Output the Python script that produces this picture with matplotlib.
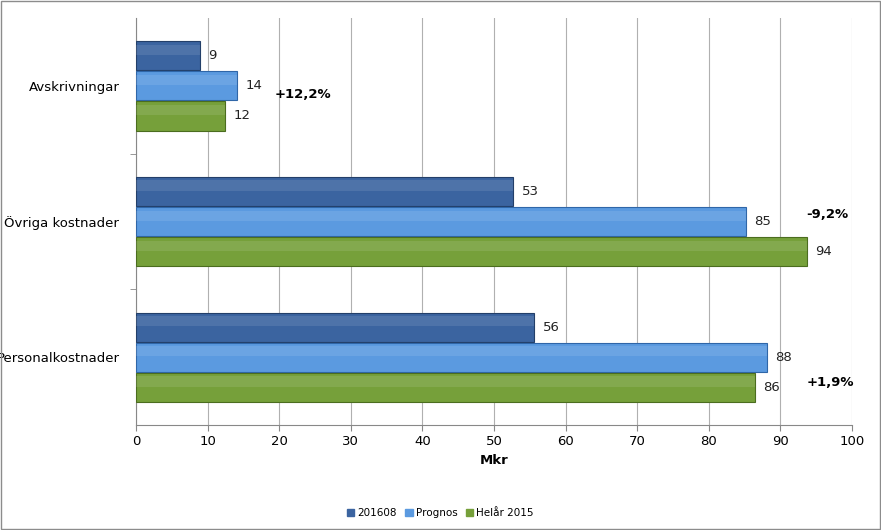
import matplotlib
matplotlib.use("Agg")
import matplotlib.pyplot as plt
import numpy as np

categories = ["Personalkostnader", "Övriga kostnader", "Avskrivningar"]
series_names = ["201608", "Prognos", "Helår 2015"]
v_201608 = [55.6, 52.7, 8.9]
v_prognos = [88.1, 85.2, 14.1]
v_helar = [86.4, 93.7, 12.4]
bar_labels = [[56, 53, 9], [88, 85, 14], [86, 94, 12]]
change_labels = ["+1,9%", "-9,2%", "+12,2%"]
change_pos = [(97.0, -0.19), (96.6, 0.05), (23.3, -0.06)]

colors = ["#3b64a0", "#5b9ae0", "#76a03a"]
edges = ["#233f69", "#2f66a8", "#4b6d1f"]

fig = plt.figure(figsize=(8.81, 5.30), dpi=100)
ax = fig.add_axes([0.1544, 0.198, 0.8126, 0.768])

y = np.arange(len(categories)) + 0.5
h = 0.215
offsets = [0.222, 0.0, -0.222]
for vals, labs, off, c, e in zip([v_201608, v_prognos, v_helar], bar_labels, offsets, colors, edges):
    ax.barh(y + off, vals, height=h, color=c, edgecolor=e, linewidth=0.8, zorder=3)
    # soft highlight on the upper part of each bar for the bevelled look
    ax.barh(y + off + h * 0.2, vals, height=h * 0.35, color="white", alpha=0.1,
            linewidth=0, zorder=4)
    for yy, v, lab in zip(y + off, vals, labs):
        ax.text(v + 1.2, yy, str(lab), va="center", ha="left", fontsize=9.5, color="#222222")

for (cx, cy), txt, yy in zip(change_pos, change_labels, y):
    ax.text(cx, yy + cy, txt, ha="center", va="center", fontsize=9.5, fontweight="bold")

ax.set_xlim(0, 100)
ax.set_ylim(0, 3)
ax.set_xticks(np.arange(0, 101, 10))
ax.set_yticks(y)
ax.set_yticklabels(categories, fontsize=9.5)
ax.set_yticks([1, 2], minor=True)
ax.tick_params(axis="y", which="major", length=0, pad=12)
ax.tick_params(axis="y", which="minor", length=4, color="#888888")
ax.tick_params(axis="x", labelsize=9.5, length=4, color="#888888")
ax.grid(True, axis="x", color="#b0b0b0", linewidth=0.8, zorder=0)
for s in ["top", "right"]:
    ax.spines[s].set_visible(False)
for s in ["left", "bottom"]:
    ax.spines[s].set_color("#888888")
ax.set_xlabel("Mkr", fontsize=9.5, fontweight="bold")

handles = [plt.Rectangle((0, 0), 1, 1, color=c) for c in colors]
fig.legend(handles, series_names, loc="lower center", ncol=3, frameon=False,
           fontsize=7.5, handlelength=0.7, handleheight=0.7, handletextpad=0.3,
           columnspacing=0.8, bbox_to_anchor=(0.5, 0.005))

fig.patches.append(plt.Rectangle((0.001, 0.001), 0.998, 0.998, transform=fig.transFigure,
                                 fill=False, edgecolor="#8c8c8c", linewidth=1))
fig.savefig("out.png", dpi=100)
